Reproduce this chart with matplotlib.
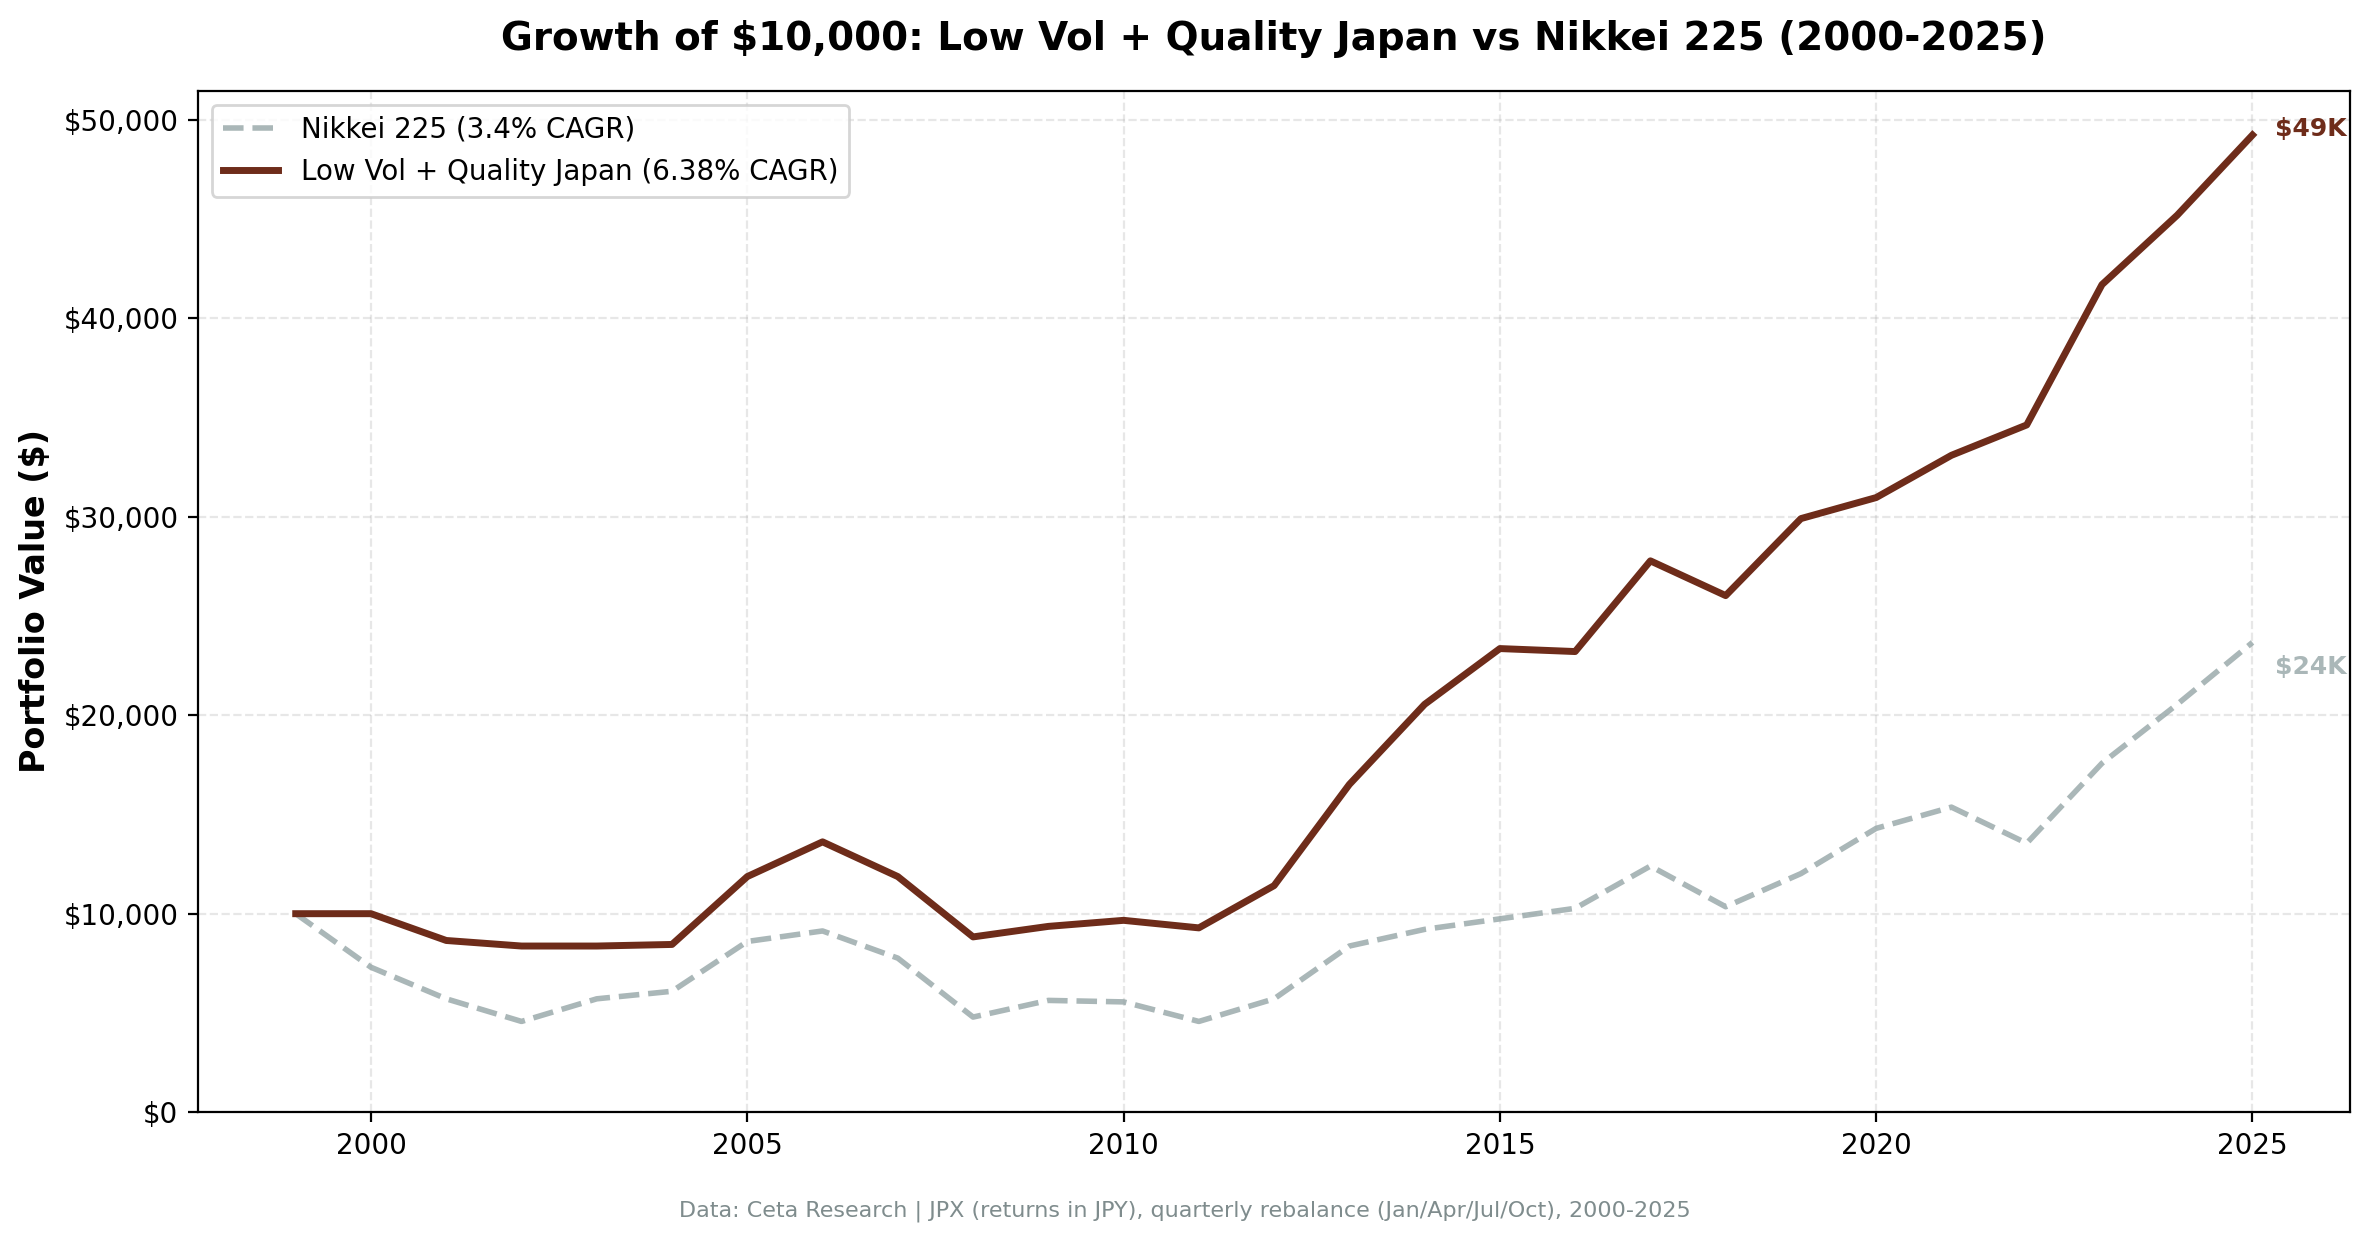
import matplotlib
matplotlib.use("Agg")
import matplotlib.pyplot as plt
from matplotlib.ticker import FuncFormatter

years = list(range(1999, 2026))
low_vol_quality = [10000, 10000, 8650, 8370, 8370, 8450, 11870, 13620, 11870, 8830,
                   9360, 9665, 9285, 11415, 16515, 20550, 23360, 23210, 27780, 26030,
                   29910, 30970, 33100, 34630, 41700, 45200, 49240]
nikkei = [10000, 7300, 5710, 4570, 5710, 6090, 8600, 9130, 7760, 4790,
          5630, 5555, 4570, 5710, 8370, 9210, 9740, 10270, 12400, 10350,
          12020, 14300, 15370, 13550, 17580, 20550, 23670]
nikkei_label = "Nikkei 225 (3.4% CAGR)"
strategy_label = "Low Vol + Quality Japan (6.38% CAGR)"
end_labels = ["$24K", "$49K"]
title = "Growth of $10,000: Low Vol + Quality Japan vs Nikkei 225 (2000-2025)"
footer = "Data: Ceta Research | JPX (returns in JPY), quarterly rebalance (Jan/Apr/Jul/Oct), 2000-2025"

brown = "#6E2C1A"
gray = "#95a5a6"

fig = plt.figure(figsize=(11.85, 6.195), dpi=200)
ax = fig.add_axes([0.0835, 0.1024, 0.9082, 0.8244])

ax.plot(years, nikkei, color=gray, alpha=0.8, lw=2.0, ls="--", label=nikkei_label)
ax.plot(years, low_vol_quality, color=brown, lw=2.5, label=strategy_label)

ax.set_ylim(bottom=0)
ax.yaxis.set_major_formatter(FuncFormatter(lambda v, p: f"${v:,.0f}"))
ax.grid(True, ls="--", alpha=0.3)
ax.set_ylabel("Portfolio Value ($)", fontsize=12, fontweight="bold")
ax.tick_params(labelsize=10)
ax.set_title(title, fontsize=14, fontweight="bold", pad=14.5)

ax.annotate(end_labels[1], (years[-1], low_vol_quality[-1]), xytext=(8, 2),
            textcoords="offset points", color=brown, fontsize=9, fontweight="bold",
            va="center", ha="left")
ax.annotate(end_labels[0], (years[-1], nikkei[-1]), xytext=(8, -9),
            textcoords="offset points", color=gray, alpha=0.8, fontsize=9,
            fontweight="bold", va="center", ha="left")

ax.legend(loc="upper left", fontsize=10)
fig.text(0.5, 0.018, footer, ha="center", fontsize=8, color="#7f8c8d")

fig.savefig("out.png", dpi=200)
